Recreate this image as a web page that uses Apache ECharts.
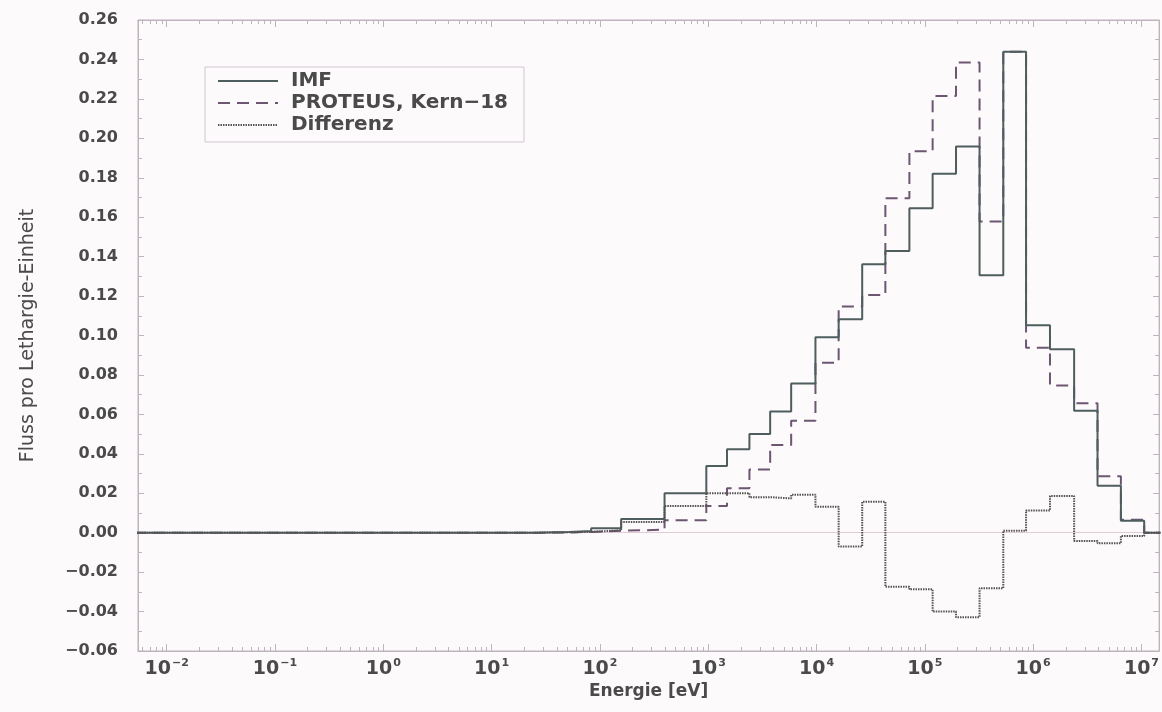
<!DOCTYPE html>
<html>
<head>
<meta charset="utf-8">
<script src="https://cdn.jsdelivr.net/npm/echarts@6/dist/echarts.min.js"></script>
<style>
html,body{margin:0;padding:0;background:#fdfafc;}
#c{width:1162px;height:712px;}
</style>
</head>
<body>
<div id="c"></div>
<script>
// Energy group boundaries [eV]
const energyEdges = [0.005, 25, 52, 83, 157, 395, 960, 1490, 2400, 3730, 5830, 9770,
  1.60e4, 2.64e4, 4.32e4, 7.20e4, 1.18e5, 1.94e5, 3.20e5, 5.30e5, 8.60e5,
  1.43e6, 2.39e6, 3.93e6, 6.46e6, 1.06e7, 1.5e7];
// Flux per lethargy unit, one value per group
const imfFlux = [0, 0.0003, 0.0008, 0.0022, 0.0070, 0.0200, 0.0338, 0.0423, 0.0500, 0.0614,
  0.0757, 0.0991, 0.1082, 0.1361, 0.1429, 0.1645, 0.1820, 0.1959, 0.1305, 0.2439,
  0.1052, 0.0930, 0.0619, 0.0238, 0.0061, 0];
const proteusFlux = [0, 0.0001, 0.0004, 0.0010, 0.0015, 0.0063, 0.0135, 0.0225, 0.0320, 0.0445,
  0.0568, 0.0862, 0.1147, 0.1206, 0.1696, 0.1934, 0.2214, 0.2385, 0.1578, 0.2439,
  0.0938, 0.0747, 0.0657, 0.0286, 0.0066, 0];
const differenzFlux = [0, 0.0002, 0.0004, 0.0012, 0.0054, 0.0135, 0.0200, 0.0200, 0.0180, 0.0174,
  0.0192, 0.0131, -0.0070, 0.0157, -0.0274, -0.0287, -0.0400, -0.0429, -0.0282, 0.0010,
  0.0112, 0.0186, -0.0042, -0.0054, -0.0017, 0];
const seriesNames = ['IMF', 'PROTEUS, Kern\u221218', 'Differenz'];
const xDecades = [-2, -1, 0, 1, 2, 3, 4, 5, 6, 7];
const xMin = 0.00543, xMax = 1.456e7;
const yMin = -0.06, yMax = 0.26, yStep = 0.02;

function steps(vals) {
  return energyEdges.map((e, i) => [e, vals[Math.min(i, vals.length - 1)]]);
}
const minorVals = [];
for (let k = -3; k <= 7; k++) {
  for (let m = 2; m <= 9; m++) {
    const v = m * Math.pow(10, k);
    if (v > xMin && v < xMax) minorVals.push(v);
  }
}
const majorVals = xDecades.map(d => Math.pow(10, d));

const txt = '#4a4a4a';
const frame = '#bdb4be';
const font = 'DejaVu Sans';

function xLabel(v) {
  const lg = Math.log10(v);
  const r = Math.round(lg);
  if (Math.abs(lg - r) > 1e-6) return '';
  return '{b|10}{s|' + (r < 0 ? '\u2212' + (-r) : r) + '}';
}

const chart = echarts.init(document.getElementById('c'), null, {renderer: 'canvas'});
const baseX = {
  type: 'log', logBase: 10, min: xMin, max: xMax, gridIndex: 0,
  splitLine: {show: false}, minorSplitLine: {show: false}
};
chart.setOption({
  backgroundColor: '#fdfafc',
  animation: false,
  grid: {left: 138, right: 2, top: 20, bottom: 61, show: true, borderColor: frame, borderWidth: 1, backgroundColor: 'transparent'},
  legend: {
    orient: 'vertical', left: 205, top: 67,
    itemWidth: 60, itemHeight: 14, itemGap: 2,
    padding: [4, 16, 7, 12],
    borderColor: '#cfc7d0', borderWidth: 1,
    data: seriesNames,
    itemStyle: {color: 'rgba(0,0,0,0)', borderWidth: 0, opacity: 0},
    textStyle: {fontFamily: font, fontWeight: 'bold', fontSize: 20, color: txt, padding: [0, 0, 0, 8]}
  },
  xAxis: [
    Object.assign({}, baseX, {
      position: 'bottom',
      name: 'Energie [eV]', nameLocation: 'middle', nameGap: 29,
      nameTextStyle: {fontFamily: font, fontWeight: 'bold', fontSize: 17, color: txt},
      axisLine: {show: true, onZero: false, lineStyle: {color: frame, width: 1}},
      axisTick: {show: true, inside: true, length: 7, lineStyle: {color: frame}, customValues: majorVals},
      axisLabel: {
        margin: 7, formatter: xLabel, customValues: majorVals,
        rich: {
          b: {fontFamily: font, fontWeight: 'bold', fontSize: 19, color: txt},
          s: {fontFamily: font, fontWeight: 'bold', fontSize: 11, color: txt, padding: [0, 0, 11, 1]}
        }
      }
    }),
    Object.assign({}, baseX, {
      position: 'bottom',
      axisLine: {show: false, onZero: false},
      axisTick: {show: true, inside: true, length: 4, lineStyle: {color: frame}, customValues: minorVals},
      axisLabel: {show: false}
    }),
    Object.assign({}, baseX, {
      position: 'top',
      axisLine: {show: true, onZero: false, lineStyle: {color: frame, width: 1}},
      axisTick: {show: true, inside: true, length: 7, lineStyle: {color: frame}, customValues: majorVals},
      axisLabel: {show: false}
    }),
    Object.assign({}, baseX, {
      position: 'top',
      axisLine: {show: false, onZero: false},
      axisTick: {show: true, inside: true, length: 4, lineStyle: {color: frame}, customValues: minorVals},
      axisLabel: {show: false}
    })
  ],
  yAxis: [
    {
      type: 'value', min: yMin, max: yMax, interval: yStep, position: 'left',
      name: 'Fluss pro Lethargie-Einheit', nameLocation: 'middle', nameGap: 100,
      nameTextStyle: {fontFamily: font, fontSize: 19, color: txt},
      axisLine: {show: true, onZero: false, lineStyle: {color: frame, width: 1}},
      axisTick: {show: true, inside: true, length: 6, lineStyle: {color: frame}},
      minorTick: {show: true, splitNumber: 2, length: 4, lineStyle: {color: frame}},
      splitLine: {show: false},
      axisLabel: {
        margin: 20, fontFamily: font, fontWeight: 'bold', fontSize: 16, color: txt,
        formatter: v => (v < -1e-9 ? '\u2212' : '') + Math.abs(v).toFixed(2)
      }
    },
    {
      type: 'value', min: yMin, max: yMax, interval: yStep, position: 'right',
      axisLine: {show: true, onZero: false, lineStyle: {color: frame, width: 1}},
      axisTick: {show: true, inside: true, length: 6, lineStyle: {color: frame}},
      minorTick: {show: true, splitNumber: 2, length: 4, lineStyle: {color: frame}},
      splitLine: {show: false},
      axisLabel: {show: false}
    }
  ],
  series: [
    {
      name: 'zero', type: 'line', data: [], silent: true, z: 1,
      markLine: {
        silent: true, symbol: 'none', z: 1, label: {show: false},
        lineStyle: {color: '#e6c9d6', width: 1, type: 'solid'},
        data: [{yAxis: 0}]
      }
    },
    {
      name: seriesNames[0], type: 'line', step: 'end', symbol: 'none', z: 4,
      data: steps(imfFlux),
      lineStyle: {color: '#4e5d5d', width: 2, type: 'solid'},
      itemStyle: {color: '#4e5d5d'}
    },
    {
      name: seriesNames[1], type: 'line', step: 'end', symbol: 'none', z: 3,
      data: steps(proteusFlux),
      lineStyle: {color: '#6c5672', width: 2, type: [12, 7]},
      itemStyle: {color: '#6c5672'}
    },
    {
      name: seriesNames[2], type: 'line', step: 'end', symbol: 'none', z: 5,
      data: steps(differenzFlux),
      lineStyle: {color: '#555253', width: 2, type: [1.5, 1]},
      itemStyle: {color: '#555253'}
    }
  ]
});
</script>
</body>
</html>
